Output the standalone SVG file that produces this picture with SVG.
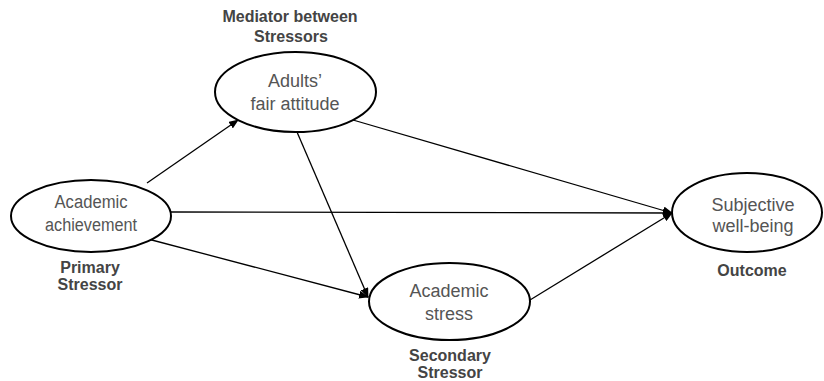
<svg xmlns="http://www.w3.org/2000/svg" width="824" height="381" viewBox="0 0 824 381">
<style>
.node{fill:#fff;stroke:#000;stroke-width:2}
.lbl{font-family:"Liberation Sans",Arial,sans-serif;font-size:18px;fill:#555;text-anchor:middle}
.role{font-family:"Liberation Sans",Arial,sans-serif;font-size:16px;font-weight:bold;fill:#444;text-anchor:middle}
.edge{stroke:#000;stroke-width:1.3;fill:none;marker-end:url(#ah)}
</style>
<defs>
<marker id="ah" markerUnits="userSpaceOnUse" markerWidth="10" markerHeight="8" refX="9" refY="4" orient="auto">
<path d="M0,0 L10,4 L0,8 z" fill="#000"/>
</marker>
</defs>
<rect width="824" height="381" fill="#fff"/>
<g id="connectors">
<line class="edge" x1="147" y1="183" x2="238" y2="120"/>
<line class="edge" x1="171" y1="212" x2="672" y2="213"/>
<line class="edge" x1="148" y1="239" x2="368" y2="297"/>
<line class="edge" x1="297" y1="132" x2="368" y2="297"/>
<line class="edge" x1="353" y1="120" x2="672" y2="213"/>
<line class="edge" x1="530" y1="300" x2="672" y2="213"/>
</g>
<g id="achievement">
<ellipse class="node" cx="91" cy="216" rx="80" ry="36"/>
<text class="lbl" x="91" y="208" textLength="73" lengthAdjust="spacingAndGlyphs">Academic</text>
<text class="lbl" x="91" y="231" textLength="92" lengthAdjust="spacingAndGlyphs">achievement</text>
<text class="role" x="90" y="273">Primary</text>
<text class="role" x="90" y="290">Stressor</text>
</g>
<g id="fairness">
<ellipse class="node" cx="295.5" cy="92" rx="80.5" ry="40"/>
<text class="lbl" x="295" y="87">Adults’</text>
<text class="lbl" x="295" y="110">fair attitude</text>
<text class="role" x="290" y="22">Mediator between</text>
<text class="role" x="291" y="42">Stressors</text>
</g>
<g id="stress">
<ellipse class="node" cx="449.5" cy="301.5" rx="80.5" ry="38.5"/>
<text class="lbl" x="449" y="297">Academic</text>
<text class="lbl" x="449" y="320">stress</text>
<text class="role" x="450" y="361">Secondary</text>
<text class="role" x="450" y="378">Stressor</text>
</g>
<g id="wellbeing">
<ellipse class="node" cx="747" cy="212.5" rx="75" ry="39.5"/>
<text class="lbl" x="753" y="211">Subjective</text>
<text class="lbl" x="753" y="232">well-being</text>
<text class="role" x="752" y="276">Outcome</text>
</g>
</svg>
